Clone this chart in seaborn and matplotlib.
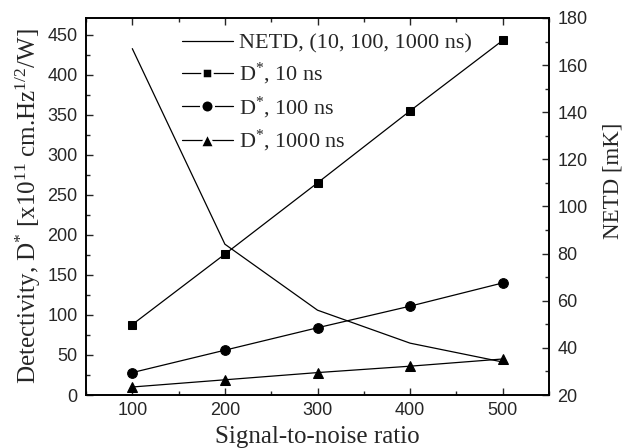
import matplotlib
matplotlib.use("Agg")
import matplotlib.pyplot as plt
import seaborn as sns
import pandas as pd
from matplotlib.ticker import MultipleLocator
from matplotlib.lines import Line2D

snr = [100, 200, 300, 400, 500]
d_10ns = [88, 176, 265, 355, 443]
d_100ns = [28, 56, 84, 111, 140]
d_1000ns = [10, 19, 28, 36, 45]
netd = [167, 84, 56, 42, 34]

sns.set_style("ticks")
plt.rcParams['font.family'] = ['Liberation Sans', 'DejaVu Sans']
plt.rcParams['mathtext.fontset'] = 'custom'
plt.rcParams['mathtext.rm'] = 'Liberation Serif'
plt.rcParams['mathtext.it'] = 'Liberation Serif'
plt.rcParams['xtick.direction'] = 'in'
plt.rcParams['ytick.direction'] = 'in'

fig = plt.figure(figsize=(6.24, 4.48), dpi=100)
ax = fig.add_axes([86/624, 1-395/448, (549-86)/624, (395-18)/448])
ax2 = ax.twinx()

df = pd.DataFrame({"snr": snr, "d10": d_10ns, "d100": d_100ns, "d1000": d_1000ns, "netd": netd})
kw = dict(color="black", linewidth=0.9, markeredgecolor="black")
sns.lineplot(data=df, x="snr", y="netd", ax=ax2, color="black", linewidth=0.9, legend=False)
sns.lineplot(data=df, x="snr", y="d10", ax=ax, marker="s", markersize=5.5, legend=False, **kw)
sns.lineplot(data=df, x="snr", y="d100", ax=ax, marker="o", markersize=7, legend=False, **kw)
sns.lineplot(data=df, x="snr", y="d1000", ax=ax, marker="^", markersize=7.5, legend=False, **kw)

ax.set_xlim(50, 550)
ax.set_ylim(0, 471)
ax2.set_ylim(20, 180)
ax.xaxis.set_major_locator(MultipleLocator(100))
ax.xaxis.set_minor_locator(MultipleLocator(50))
ax.yaxis.set_major_locator(MultipleLocator(50))
ax.yaxis.set_minor_locator(MultipleLocator(25))
ax2.yaxis.set_major_locator(MultipleLocator(20))
ax2.yaxis.set_minor_locator(MultipleLocator(10))
ax.tick_params(axis='x', which='both', top=True, direction='in')
ax.tick_params(axis='y', which='both', right=False, direction='in')
ax.tick_params(axis='y', which='major', pad=6)
ax.tick_params(axis='x', which='major', pad=5)
ax.tick_params(which='major', length=5, width=1, labelsize=13)
ax.tick_params(which='minor', length=3, width=1)
ax2.tick_params(which='major', length=5, width=1, labelsize=13, direction='in', pad=6)
ax2.tick_params(which='minor', length=3, width=1, direction='in')
for a in (ax, ax2):
    for s in a.spines.values():
        s.set_linewidth(1.2)
        s.set_color("black")

serif = ['Liberation Serif', 'DejaVu Serif']
ax.set_xlabel("Signal-to-noise ratio", fontsize=18, family=serif, labelpad=5)
ax.set_ylabel(r"Detectivity, D$^{*}$ [x10$^{11}$ cm.Hz$^{1/2}$/W]", fontsize=18, family=serif, labelpad=3)
ax2.set_ylabel("NETD [mK]", fontsize=16.5, family=serif)
ax2.yaxis.set_label_coords(1.115, 0.568)

labels = ["NETD, (10, 100, 1000 ns)", r"D$^{*}$, 10 ns", r"D$^{*}$, 100 ns", r"D$^{*}$, 1000 ns"]
lk = dict(color="black", linewidth=0.9, markerfacecolor="black", markeredgecolor="white", markeredgewidth=1.8)
handles = [
    Line2D([], [], color="black", linewidth=0.9),
    Line2D([], [], marker="s", markersize=7.5, **lk),
    Line2D([], [], marker="o", markersize=9.0, **lk),
    Line2D([], [], marker="^", markersize=10.0, **lk),
]
leg = ax2.legend(handles, labels, loc="upper left", bbox_to_anchor=(0.2065, 0.96), frameon=False,
                 prop={'family': serif, 'size': 16}, handlelength=2.3, handletextpad=0.3,
                 labelspacing=0.33, borderpad=0, borderaxespad=0)

fig.savefig("out.png", dpi=100)
